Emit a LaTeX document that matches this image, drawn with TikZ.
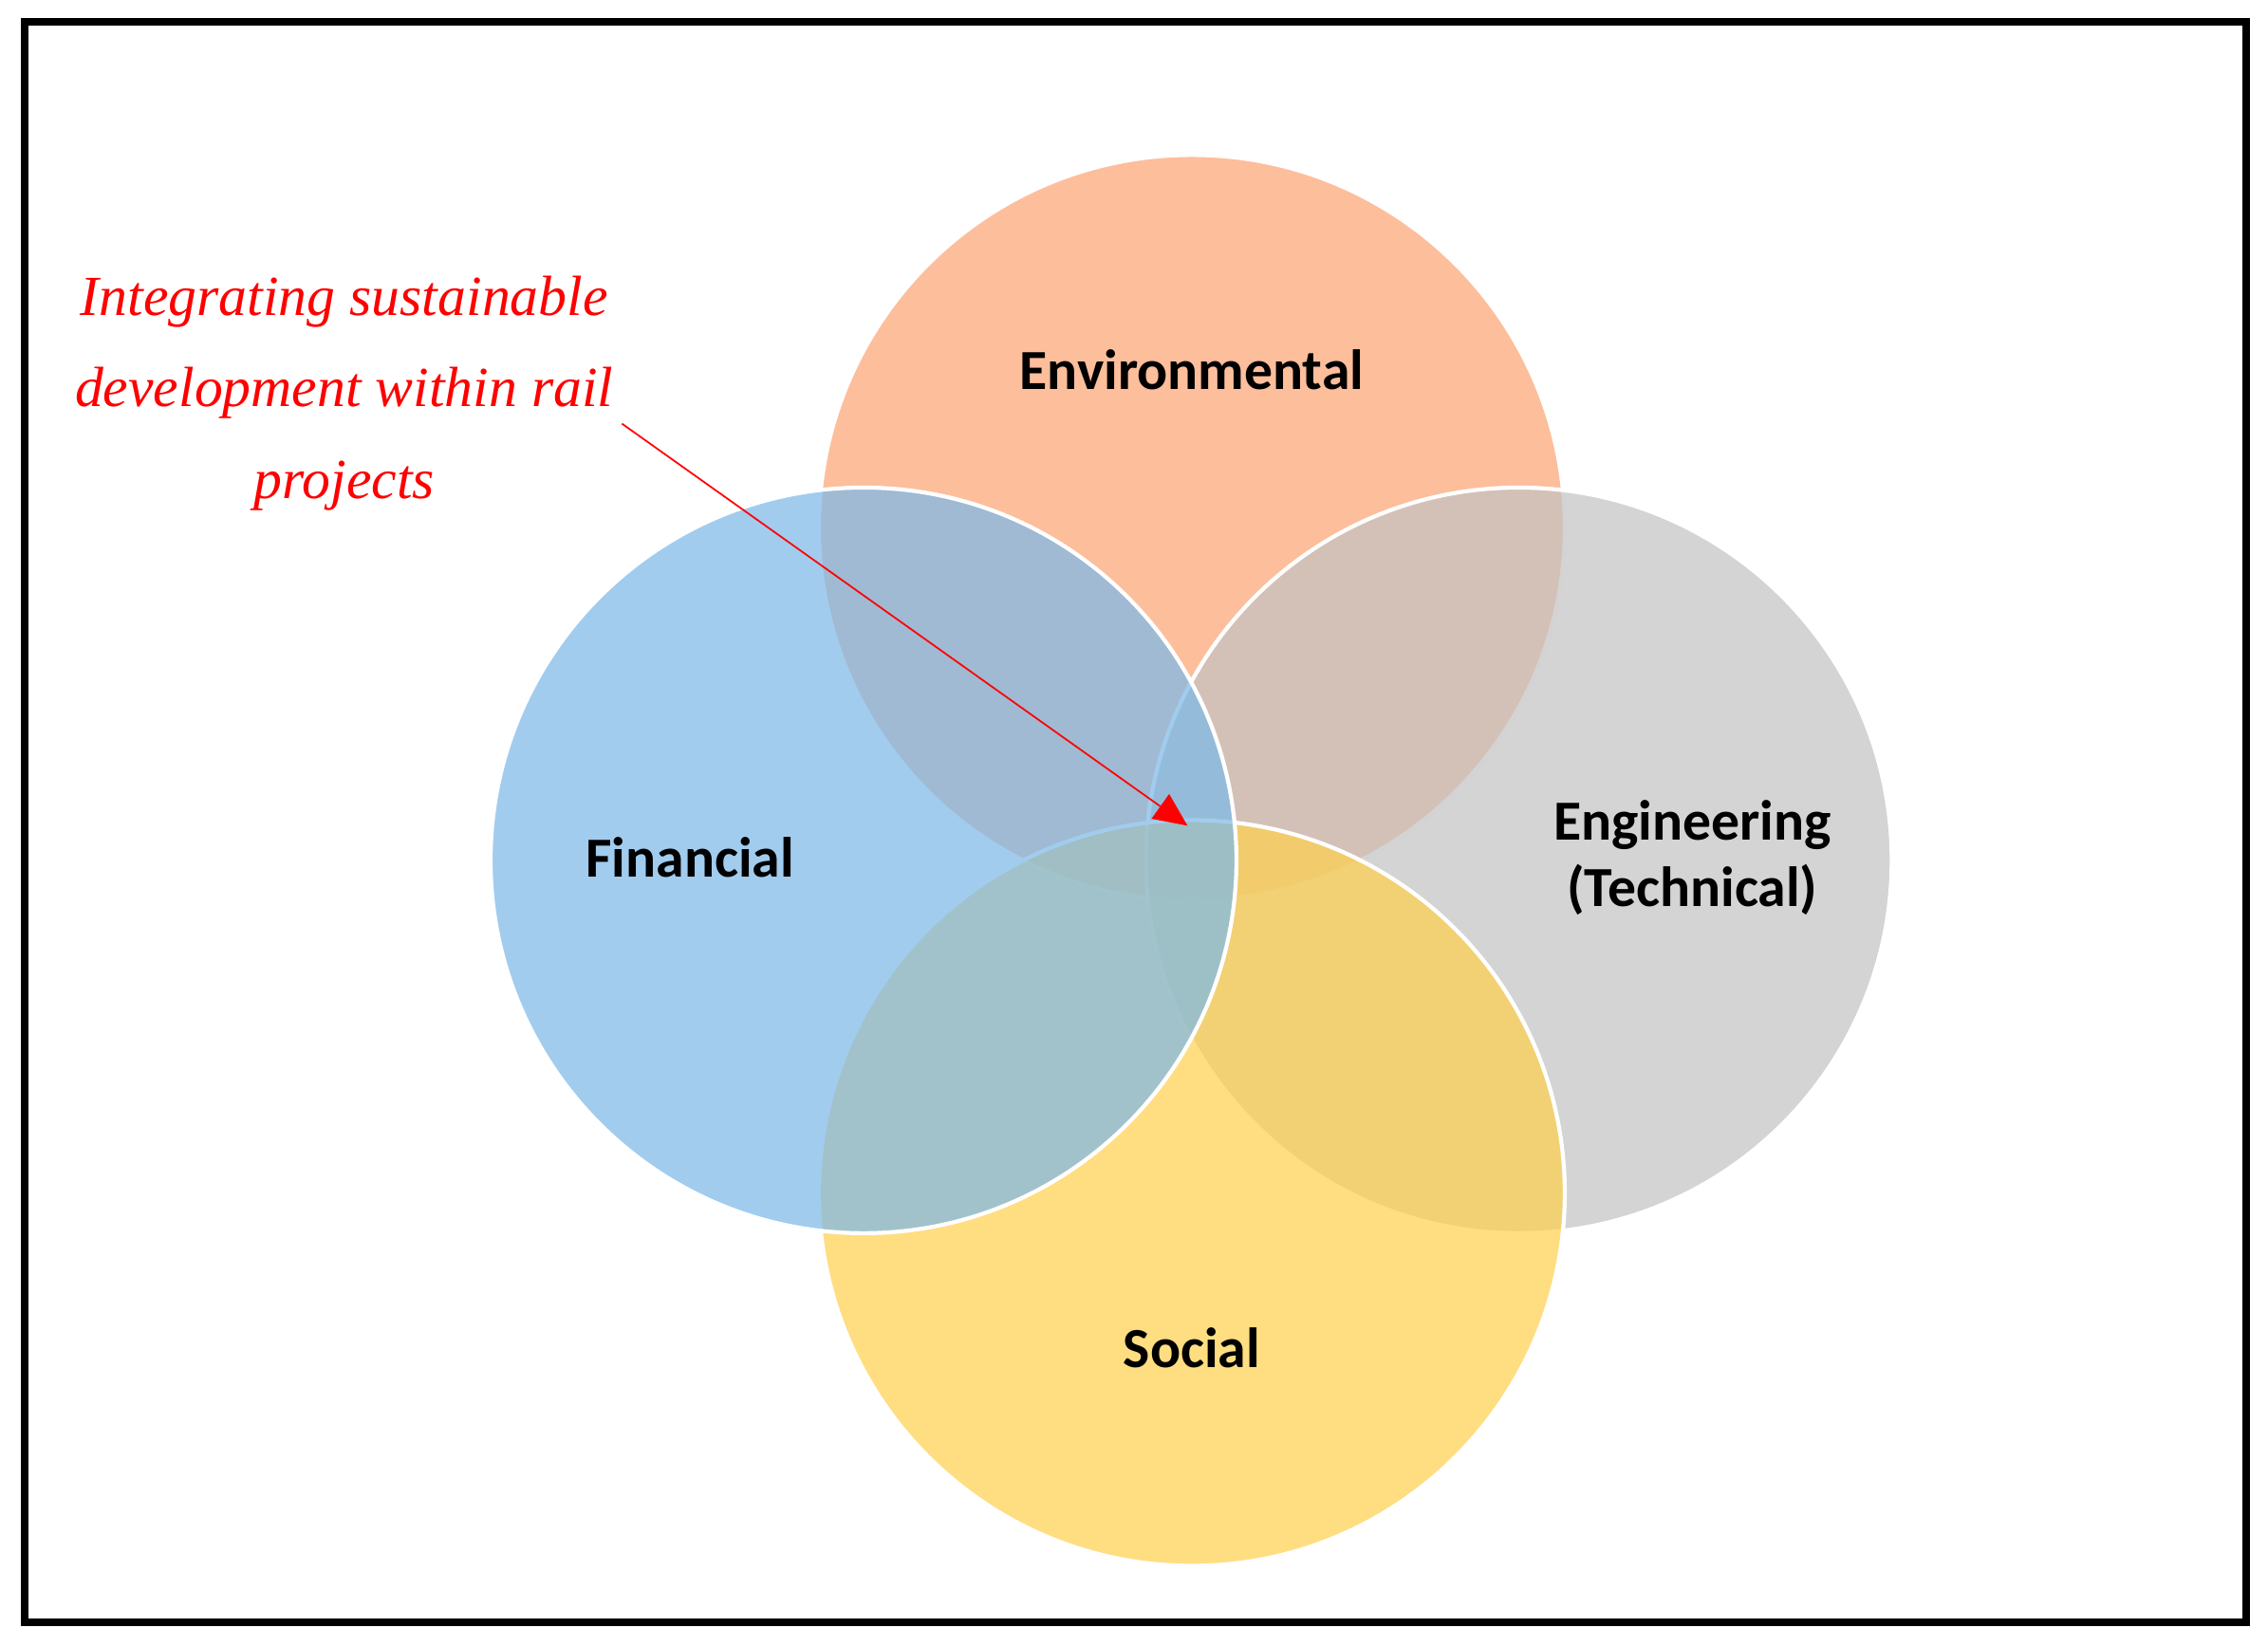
\documentclass[tikz,border=0pt]{standalone}
\usepackage{fontspec}
\setmainfont{Carlito}
\newfontfamily\notefont{Liberation Serif}
\usetikzlibrary{positioning, calc, arrows.meta}

\begin{document}
\begin{tikzpicture}[x=0.01524cm, y=-0.01524cm]
    % Define styles
    \tikzset{
        ring/.style = {circle, minimum size=7.86cm, inner sep=0pt, draw=white, line width=1.2pt, fill opacity=0.72},
        lbl/.style = {font=\fontsize{17}{20}\selectfont\bfseries, align=center}
    }
    \useasboundingbox (0,0) rectangle (1568,1138);
    \draw[line width=2.2pt] (17,15) rectangle (1553,1122);

    % Place circles
    \node [ring, fill={rgb,255:red,252;green,165;blue,118}] (env) at (824,365) {};
    \node [ring, fill={rgb,255:red,195;green,195;blue,195}] (eng) at (1050,595) {};
    \node [ring, fill={rgb,255:red,255;green,208;blue,80}] (soc) at (824,825) {};
    \node [ring, fill={rgb,255:red,125;green,185;blue,232}] (fin) at (597,595) {};

    % Labels
    \node [lbl] at (824,256) {Environmental};
    \node [lbl] at (477,593) {Financial};
    \node [lbl] at (1170,593) {Engineering\\(Technical)};
    \node [lbl] at (824,932) {Social};

    % Note and arrow
    \node [font=\notefont\itshape\fontsize{17}{27.5}\selectfont, text=red, align=center] (note) at (238,272)
        {Integrating sustainable\\development within rail\\projects};
    \coordinate (start) at (430,293);
    \coordinate (centre) at (821,571);
    \draw [red, line width=0.5pt, -{Triangle[length=10pt, width=9pt]}] (start) -- (centre);
\end{tikzpicture}
\end{document}
